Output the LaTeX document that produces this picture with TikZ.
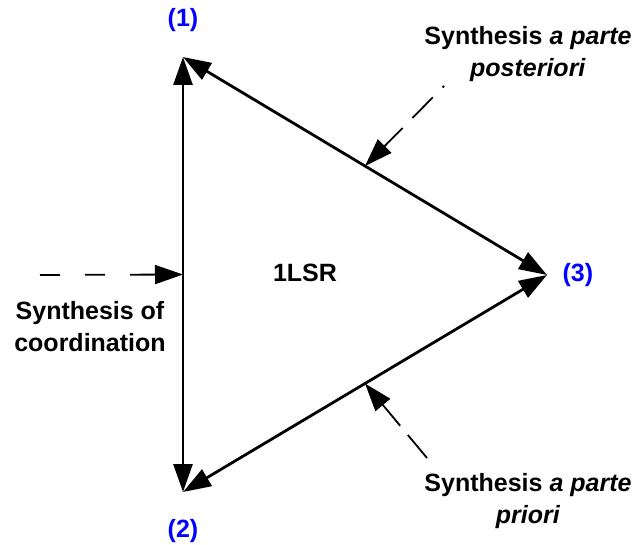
\documentclass[tikz,border=0pt]{standalone}
\usepackage{fontspec}
\setmainfont{Liberation Sans}
\usetikzlibrary{positioning,arrows.meta,calc}

\begin{document}
\begin{tikzpicture}[x=1pt,y=-1pt,
    txt/.style={font=\fontsize{25}{32}\selectfont\bfseries,align=center},
    num/.style={txt,text=blue},
    side/.style={<->,line width=2.8pt},
    hint/.style={->,line width=1.8pt},
    >={Triangle[length=28pt,width=19pt]}]
    \useasboundingbox (0,0) rectangle (637,545);
    \coordinate (v1) at (183,57);
    \coordinate (v2) at (183,492);
    \coordinate (v3) at (547,275);
    \coordinate (m12) at ($(v1)!.5!(v2)$);
    \coordinate (m13) at ($(v1)!.5!(v3)$);
    \coordinate (m23) at ($(v2)!.5!(v3)$);
    \coordinate (s12) at (40,275);
    \coordinate (s13) at (444,86);
    \coordinate (s23) at (427,458);

    \node[num,above=22pt] (n1) at (v1) {(1)};
    \node[num,below=24pt] (n2) at (v2) {(2)};
    \node[num,right=12pt] (n3) at (v3) {(3)};
    \node[txt] (lsr) at (305,273) {1LSR};
    \node[txt] (coord) at (90,327) {Synthesis of\\coordination};
    \node[txt] (post) at (528,54) {Synthesis \textit{a parte}\\\textit{posteriori}};
    \node[txt] (prio) at (528,501) {Synthesis \textit{a parte}\\\textit{priori}};

    \draw[side] (v1) -- (v2);
    \draw[side] (v1) -- (v3);
    \draw[side] (v2) -- (v3);
    \draw[hint,dash pattern=on 20pt off 25pt on 20pt off 25pt on 80pt] (s12) -- (m12);
    \draw[hint,dash pattern=on 2pt off 14pt on 29pt off 14pt on 80pt] (s13) -- (m13);
    \draw[hint,dash pattern=on 30pt off 12pt on 80pt] (s23) -- (m23);
\end{tikzpicture}
\end{document}
